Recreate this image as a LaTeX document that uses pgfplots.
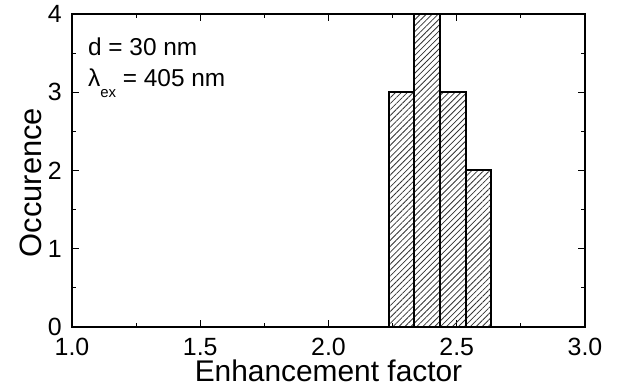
\documentclass[border=0pt]{standalone}
\usepackage{pgfplots}
\pgfplotsset{compat=1.18}
\usepackage{fontspec}
\setmainfont{Liberation Sans}
\usetikzlibrary{patterns.meta}
\begin{document}
\begin{tikzpicture}
\begin{axis}[
  at={(0,0)}, anchor=south west,
  width=513bp, height=313bp, scale only axis,
  xmin=1, xmax=3, ymin=0, ymax=4,
  xtick={1,1.5,2,2.5,3},
  minor xtick={1.25,1.75,2.25,2.75},
  ytick={0,1,2,3,4},
  minor ytick={0.5,1.5,2.5,3.5},
  tick align=inside,
  major tick length=7bp, minor tick length=4bp,
  every tick/.style={line width=1bp, black},
  axis line style={line width=1.2bp},
  /pgf/number format/assume math mode=true,
  x tick label style={/pgf/number format/fixed,/pgf/number format/fixed zerofill,/pgf/number format/precision=1, font=\fontsize{25}{28}\selectfont, inner sep=0pt, yshift=-11bp},
  y tick label style={font=\fontsize{25}{28}\selectfont, inner sep=0pt, xshift=-10bp},
  every axis x label/.style={at={(axis description cs:0.5,0)}, anchor=base, yshift=-54.5bp, inner sep=0pt, font=\fontsize{30}{34}\selectfont},
  every axis y label/.style={at={(axis description cs:0,0.5)}, anchor=base, rotate=90, xshift=-12bp, yshift=30bp, inner sep=0pt, font=\fontsize{31}{34}\selectfont},
  xlabel={Enhancement factor},
  ylabel={Occurence},
  clip=false,
]
\addplot[ybar interval, draw=black, line width=2bp, pattern={Lines[angle=45,distance=4.2bp,line width=0.8bp]}, pattern color=black!80]
  coordinates {(2.235,3) (2.335,4) (2.435,3) (2.535,2) (2.635,2)};
\node[anchor=base west, font=\fontsize{24.5}{28}\selectfont, inner sep=0pt] at (axis description cs:0.031,0.869) {d = 30 nm};
\node[anchor=base west, font=\fontsize{24.5}{28}\selectfont, inner sep=0pt] at (axis description cs:0.031,0.767) {λ\raisebox{-0.42em}{\fontsize{15}{16}\selectfont ex} = 405 nm};
\end{axis}
\path[use as bounding box] (-72bp,-60bp) rectangle (545bp,327bp);
\end{tikzpicture}
\end{document}
